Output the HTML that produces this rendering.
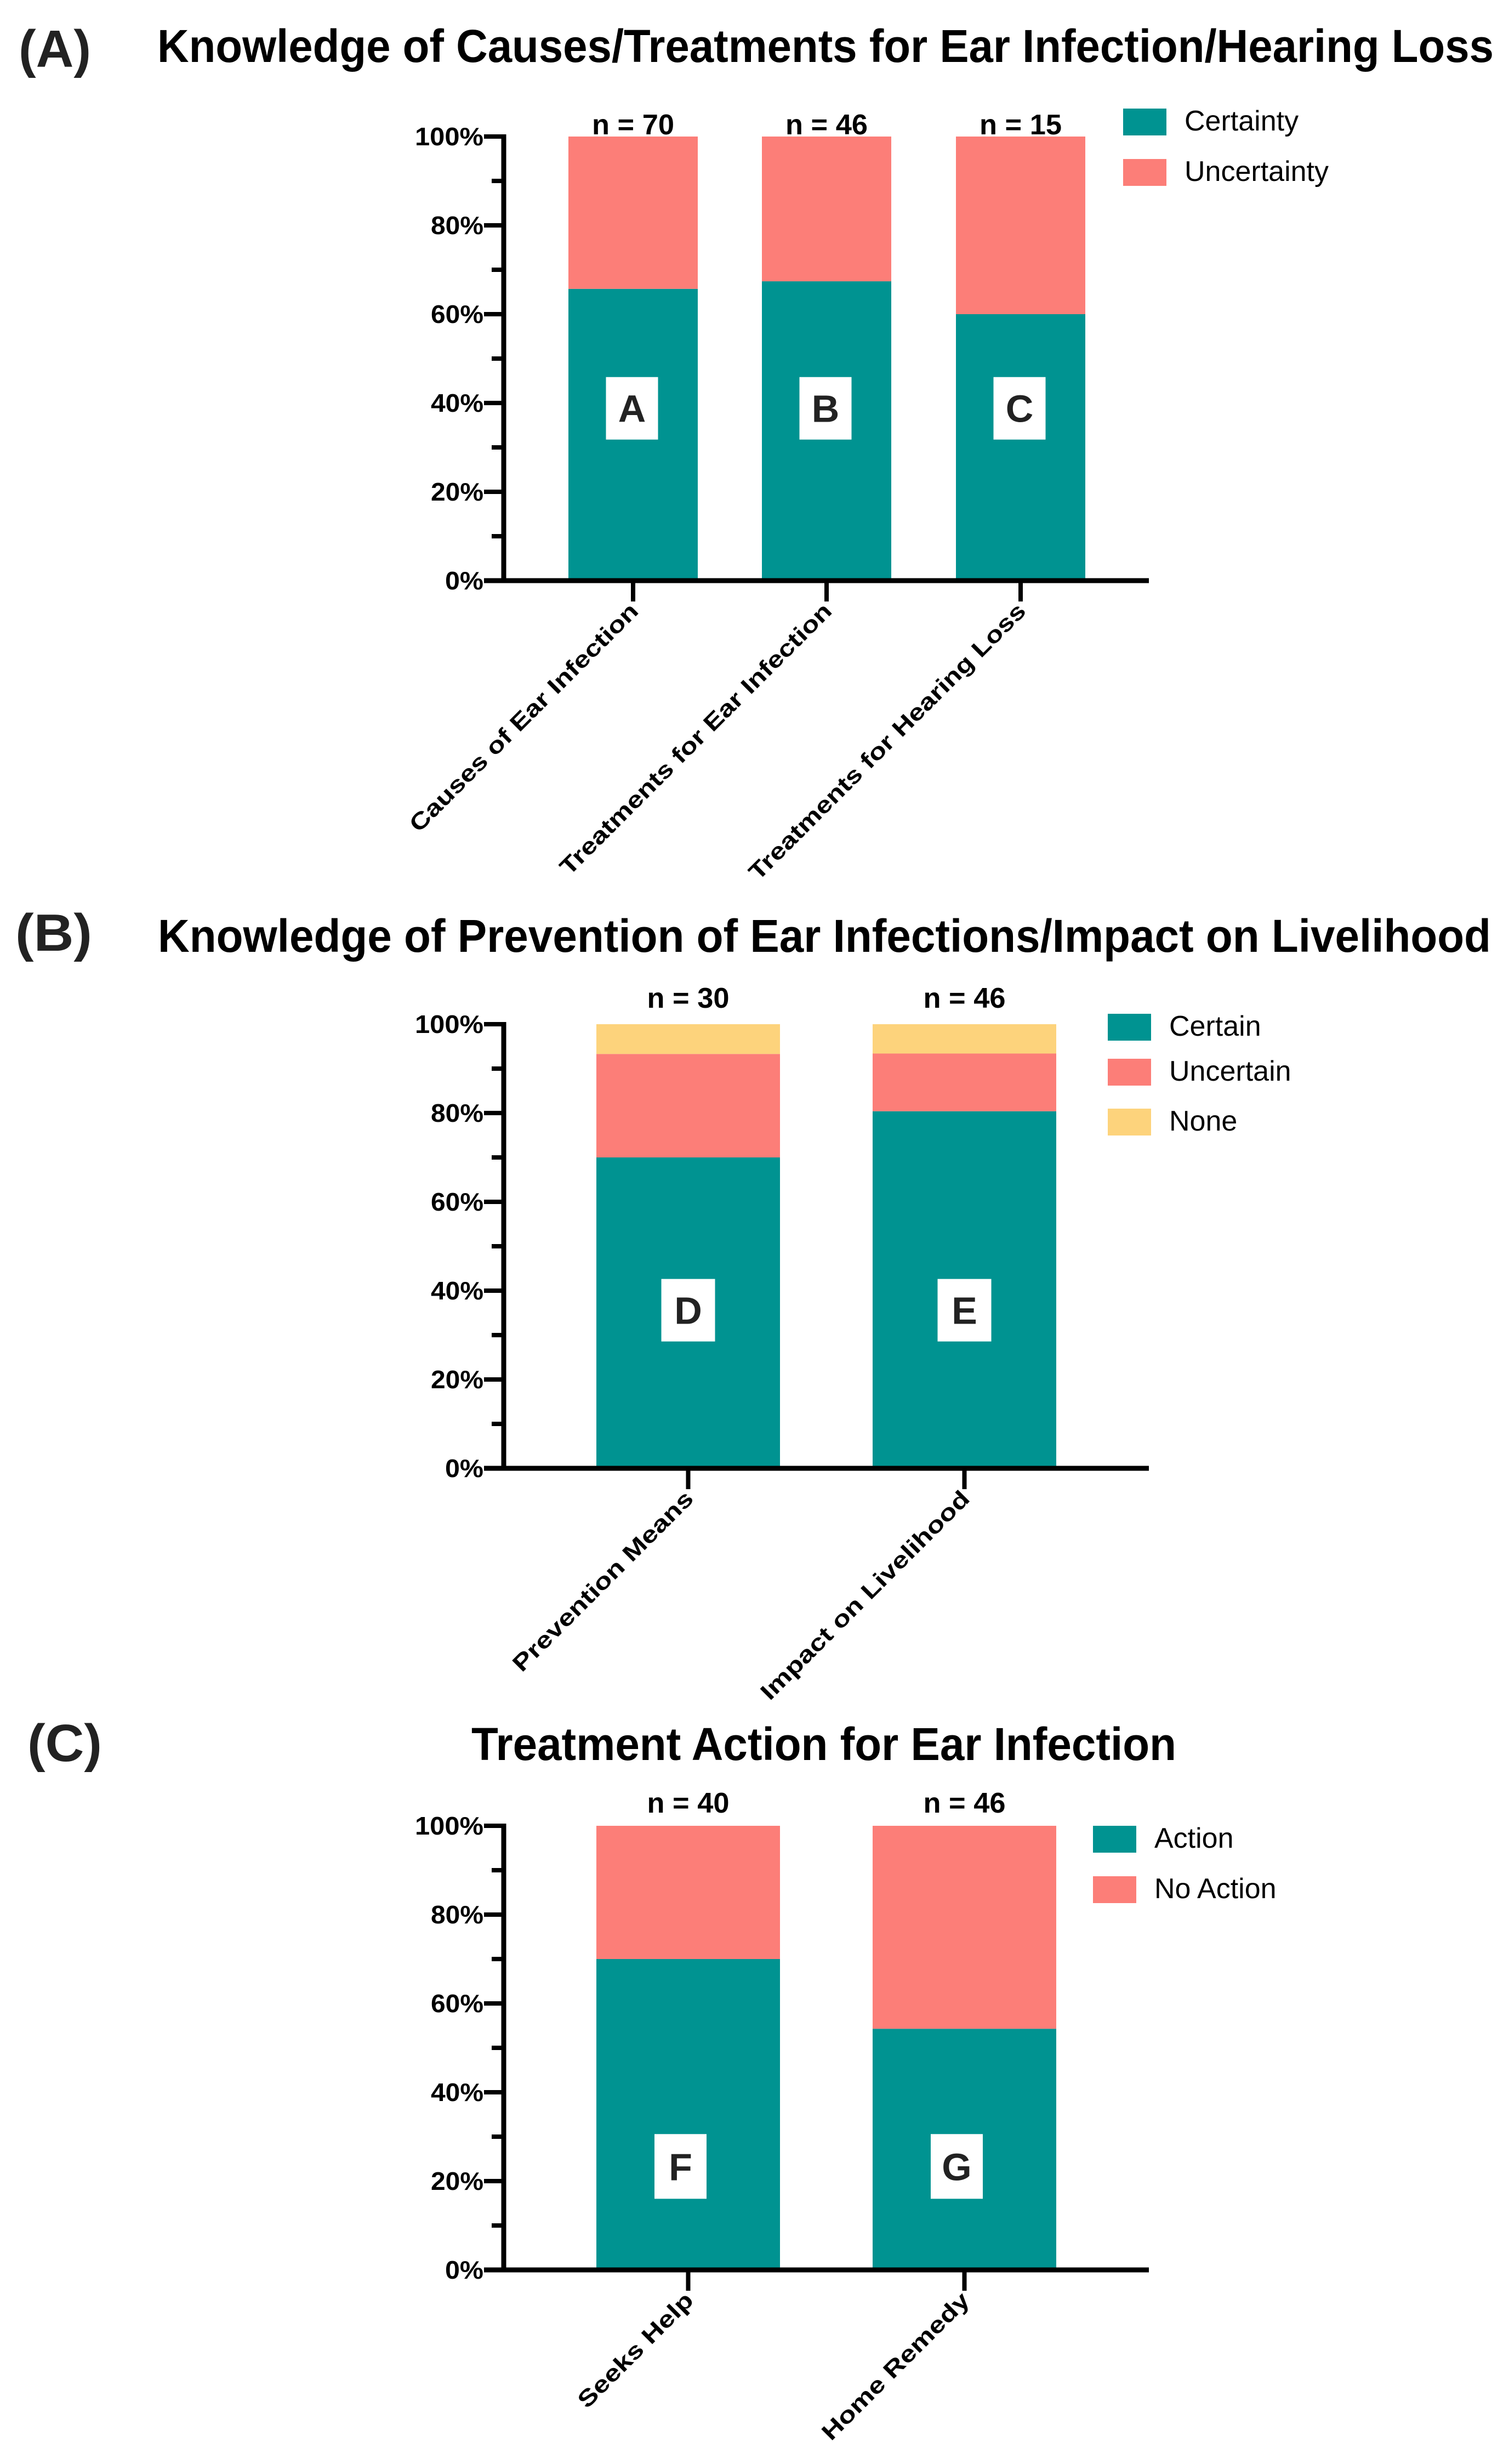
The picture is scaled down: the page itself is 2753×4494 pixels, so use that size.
<!DOCTYPE html>
<html><head><meta charset="utf-8">
<style>
html,body{margin:0;padding:0;background:#fff;}
svg{display:block;font-family:"Liberation Sans",Arial,sans-serif;}
</style></head>
<body>
<svg id="fig" width="2753" height="4494" viewBox="0 0 2753 4494" xmlns="http://www.w3.org/2000/svg">
<rect width="2753" height="4494" fill="#fff"/>
<g>
<text x="34" y="122" font-size="96" font-weight="bold" fill="#222" textLength="132" lengthAdjust="spacingAndGlyphs">(A)</text>
<text x="287" y="113" font-size="84" font-weight="bold" textLength="2438" lengthAdjust="spacingAndGlyphs">Knowledge of Causes/Treatments for Ear Infection/Hearing Loss</text>
</g>
<g>
<text x="28" y="1734" font-size="96" font-weight="bold" fill="#222" textLength="140" lengthAdjust="spacingAndGlyphs">(B)</text>
<text x="288" y="1736" font-size="84" font-weight="bold" textLength="2432" lengthAdjust="spacingAndGlyphs">Knowledge of Prevention of Ear Infections/Impact on Livelihood</text>
</g>
<g>
<text x="50" y="3212" font-size="96" font-weight="bold" fill="#222" textLength="136" lengthAdjust="spacingAndGlyphs">(C)</text>
<text x="860" y="3210" font-size="84" font-weight="bold" textLength="1286" lengthAdjust="spacingAndGlyphs">Treatment Action for Ear Infection</text>
</g>
</svg>
<script>
// ---- Panel A data ----
const catsA = ["Causes of Ear Infection","Treatments for Ear Infection","Treatments for Hearing Loss"];
const certaintyA = [65.7, 67.4, 60.0];
const uncertaintyA = [34.3, 32.6, 40.0];
const nA = ["n = 70","n = 46","n = 15"];
const lettersA = ["A","B","C"];
// ---- Panel B data ----
const catsB = ["Prevention Means","Impact on Livelihood"];
const certainB = [70.0, 80.4];
const uncertainB = [23.3, 13.0];
const noneB = [6.7, 6.6];
const nB = ["n = 30","n = 46"];
const lettersB = ["D","E"];
// ---- Panel C data ----
const catsC = ["Seeks Help","Home Remedy"];
const actionC = [70.0, 54.3];
const noActionC = [30.0, 45.7];
const nC = ["n = 40","n = 46"];
const lettersC = ["F","G"];
const yTicks = ["0%","20%","40%","60%","80%","100%"];

const NS = "http://www.w3.org/2000/svg";
const svg = document.getElementById('fig');
const TEAL="#009391", SALMON="#FC7E78", YEL="#FDD37C";

function mk(tag, attrs, parent){
  const e=document.createElementNS(NS,tag);
  for(const k in attrs) e.setAttribute(k,attrs[k]);
  (parent||svg).appendChild(e); return e;
}

function panel(cfg){
  const g=mk('g',{});
  
  
  const ax=919, axR=2096, y0=cfg.y0, y100=cfg.y100;
  const ys=v=>y0-(v/100)*(y0-y100);
  cfg.cats.forEach((c,i)=>{
    const x=cfg.barX[i], w=cfg.barW;
    let base=0;
    cfg.series.forEach((s,si)=>{
      const v=s.vals[i];
      const r=mk('rect',{x:x,y:ys(base+v),width:w,height:ys(base)-ys(base+v),fill:s.color},g);
      
      
      base+=v;
    });
    const cx=x+w/2;
    const nt=mk('text',{x:cx,y:cfg.nY,'font-size':52,'font-weight':'bold','text-anchor':'middle',textLength:150,lengthAdjust:'spacingAndGlyphs'},g);
    nt.textContent=cfg.n[i];
    
    
    const bh=cfg.boxH, bw=cfg.boxW, by=ys(cfg.boxPos)-bh/2;
    const bx=mk('rect',{x:cx-bw/2+cfg.boxDx,y:by,width:bw,height:bh,fill:'#fff'},g);
    
    
    const lt=mk('text',{x:cx+cfg.boxDx,y:by+bh/2+25,'font-size':70,'font-weight':'bold','text-anchor':'middle',fill:'#222'},g);
    lt.textContent=cfg.letters[i];
    
    
    const xt=mk('line',{x1:cx,x2:cx,y1:y0,y2:y0+38,stroke:'#000','stroke-width':8},g);
    
    
    const tx=cx+12, ty=y0+58;
    const xl=mk('text',{x:tx,y:ty,'font-size':42,'font-weight':'bold','text-anchor':'end',transform:`rotate(-45 ${tx} ${ty})`,textLength:cfg.labLen[i],lengthAdjust:'spacingAndGlyphs'},g);
    xl.textContent=c;
    
    
  });
  const ya=mk('line',{x1:ax,x2:ax,y1:y100-4,y2:y0+4,stroke:'#000','stroke-width':9},g);
  
  
  const xa=mk('line',{x1:ax-36,x2:axR,y1:y0,y2:y0,stroke:'#000','stroke-width':9},g);
  
  
  for(let k=0;k<=10;k++){
    const y=ys(k*10), major=k%2===0;
    const t=mk('line',{x1:ax-(major?36:22),x2:ax,y1:y,y2:y,stroke:'#000','stroke-width':8},g);
    
    
  }
  yTicks.forEach((lab,k)=>{
    const tl = lab.length===2?70:(lab.length===3?96:125);
    const t=mk('text',{x:882,y:ys(k*20)+16,'font-size':46,'font-weight':'bold','text-anchor':'end',textLength:tl,lengthAdjust:'spacingAndGlyphs'},g);
    t.textContent=lab;
    
    
  });
  cfg.series.forEach((s,si)=>{
    const ly=cfg.legY[si];
    const sw=mk('rect',{x:cfg.legX,y:ly,width:79,height:49,fill:s.color},g);
    
    
    const lt=mk('text',{x:cfg.legX+112,y:ly+40,'font-size':52},g);
    lt.textContent=s.name;
    
    
  });
}

panel({id:'panel-a',cats:catsA,y0:1059,y100:249,barX:[1037,1390,1744],barW:236,nY:245,
  n:nA,letters:lettersA,boxW:95,boxH:114,boxPos:38.8,boxDx:-2,labLen:[570,681,694],
  series:[{key:'certainty',name:'Certainty',color:TEAL,vals:certaintyA},{key:'uncertainty',name:'Uncertainty',color:SALMON,vals:uncertaintyA}],
  legX:2049,legY:[198,290]});
panel({id:'panel-b',cats:catsB,y0:2678,y100:1868,barX:[1088,1592],barW:335,nY:1838,
  n:nB,letters:lettersB,boxW:98,boxH:114,boxPos:35.6,boxDx:0,labLen:[446,519],
  series:[{key:'certain',name:'Certain',color:TEAL,vals:certainB},{key:'uncertain',name:'Uncertain',color:SALMON,vals:uncertainB},{key:'none',name:'None',color:YEL,vals:noneB}],
  legX:2021,legY:[1849,1931,2022]});
panel({id:'panel-c',cats:catsC,y0:4140,y100:3330,barX:[1088,1592],barW:335,nY:3306,
  n:nC,letters:lettersC,boxW:95,boxH:118,boxPos:23.3,boxDx:-14,labLen:[278,361],
  series:[{key:'action',name:'Action',color:TEAL,vals:actionC},{key:'no-action',name:'No Action',color:SALMON,vals:noActionC}],
  legX:1994,legY:[3330,3422]});
</script>
</body></html>
